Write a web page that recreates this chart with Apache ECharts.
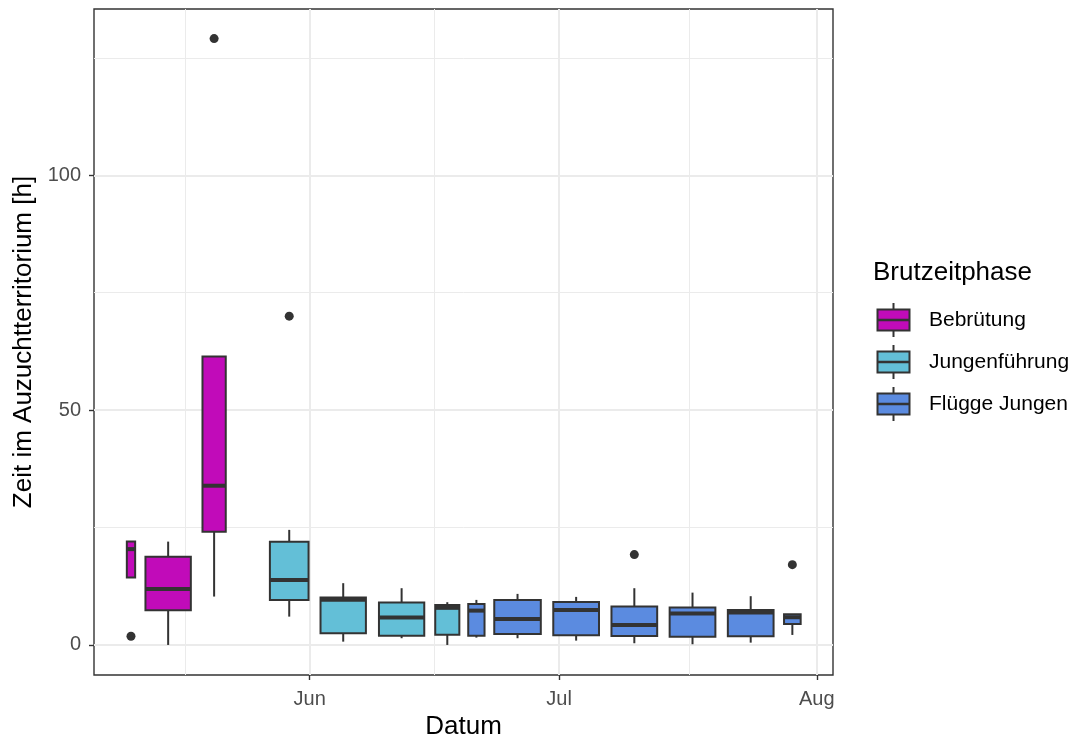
<!DOCTYPE html>
<html><head><meta charset="utf-8">
<script src="https://cdn.jsdelivr.net/npm/echarts@6/dist/echarts.min.js"></script>
<style>html,body{margin:0;padding:0;background:#fff}#c{width:1078px;height:738px}</style>
</head><body><div id="c"></div>
<script>
// Days are counted relative to 1 June (day 0)
const phases = ['Bebrütung', 'Jungenführung', 'Flügge Jungen'];
const phaseColors = ['#C10BB9', '#63BFD7', '#5B8BE0'];
const boxPhase   = [0, 0, 0, 1, 1, 1, 1, 2, 2, 2, 2, 2, 2, 2];
const boxStart   = [-22.0, -19.76, -12.9, -4.79, 1.30, 8.33, 15.1, 19.07, 22.2, 29.3, 36.3, 43.3, 50.3, 57.06];
const boxEnd     = [-21.0, -14.3, -10.1, -0.14, 6.76, 13.78, 18.0, 21.03, 27.8, 34.8, 41.8, 48.8, 55.8, 59.06];
const whiskerLow = [14.34, 0.0, 10.3, 6.03, 0.7, 1.43, 0.0, 1.56, 1.43, 0.92, 0.36, 0.15, 0.49, 2.13];
const q1         = [14.34, 7.39, 24.1, 9.59, 2.49, 1.98, 2.19, 1.98, 2.34, 2.07, 1.92, 1.77, 1.85, 4.47];
const median     = [20.4, 11.93, 33.9, 13.85, 9.6, 5.82, 7.9, 7.31, 5.54, 7.46, 4.26, 6.67, 6.9, 5.9];
const q3         = [22.0, 18.8, 61.4, 21.95, 10.08, 9.01, 8.52, 8.74, 9.59, 9.16, 8.16, 7.95, 7.46, 6.54];
const whiskerHigh= [22.0, 22.0, 61.4, 24.5, 13.15, 12.08, 9.1, 9.59, 10.87, 10.23, 12.08, 11.14, 10.38, 6.54];
const outlierBox   = [0, 2, 3, 10, 13];
const outlierValue = [1.85, 129.1, 70.0, 19.24, 17.1];
const monthTicks  = [0, 30, 61];
const monthLabels = ['Jun', 'Jul', 'Aug'];
const minorX = [-15.0, 15.0, 45.6];
const yTicks = [0, 50, 100];
const yMinor = [25, 75, 125];

const boxData = boxStart.map((s, i) => [s, boxEnd[i], whiskerLow[i], q1[i], median[i], q3[i], whiskerHigh[i], boxPhase[i]]);
const outlierData = outlierBox.map((b, i) => [(boxStart[b] + boxEnd[b]) / 2, outlierValue[i]]);

const INK = '#333333';
const chart = echarts.init(document.getElementById('c'), null, {renderer: 'canvas'});

function renderBox(params, api) {
  const xs = api.value(0), xe = api.value(1);
  const xc = (xs + xe) / 2;
  const pLo = api.coord([xc, api.value(2)]);
  const pQ1 = api.coord([xs, api.value(3)]);
  const pMed = api.coord([xs, api.value(4)]);
  const pQ3 = api.coord([xe, api.value(5)]);
  const pHi = api.coord([xc, api.value(6)]);
  const pMedE = api.coord([xe, api.value(4)]);
  const color = phaseColors[api.value(7)];
  return {
    type: 'group',
    children: [
      {type: 'line', shape: {x1: pHi[0], y1: pHi[1], x2: pHi[0], y2: pQ3[1]}, style: {stroke: INK, lineWidth: 2}},
      {type: 'line', shape: {x1: pLo[0], y1: pLo[1], x2: pLo[0], y2: pQ1[1]}, style: {stroke: INK, lineWidth: 2}},
      {type: 'rect', shape: {x: pQ1[0], y: pQ3[1], width: pQ3[0] - pQ1[0], height: pQ1[1] - pQ3[1]},
       style: {fill: color, stroke: INK, lineWidth: 2}},
      {type: 'line', shape: {x1: pMed[0], y1: pMed[1], x2: pMedE[0], y2: pMedE[1]}, style: {stroke: INK, lineWidth: 4}}
    ]
  };
}

const gridLines = [];
monthTicks.forEach(v => gridLines.push({xAxis: v, lineStyle: {color: '#EBEBEB', width: 2, type: 'solid'}}));
minorX.forEach(v => gridLines.push({xAxis: v, lineStyle: {color: '#EBEBEB', width: 1, type: 'solid'}}));
yTicks.forEach(v => gridLines.push({yAxis: v, lineStyle: {color: '#EBEBEB', width: 2, type: 'solid'}}));
yMinor.forEach(v => gridLines.push({yAxis: v, lineStyle: {color: '#EBEBEB', width: 1, type: 'solid'}}));

const legendChildren = [{
  type: 'text', left: 873, top: 260,
  style: {text: 'Brutzeitphase', font: '26px "Liberation Sans", Arial, sans-serif', fill: '#000'}
}];
phases.forEach((p, i) => {
  const yc = 320 + 42 * i;
  legendChildren.push(
    {type: 'line', shape: {x1: 893.5, y1: yc - 17, x2: 893.5, y2: yc + 17}, style: {stroke: INK, lineWidth: 2}},
    {type: 'rect', shape: {x: 877.5, y: yc - 10.5, width: 32, height: 21}, style: {fill: phaseColors[i], stroke: INK, lineWidth: 2}},
    {type: 'line', shape: {x1: 877.5, y1: yc, x2: 909.5, y2: yc}, style: {stroke: INK, lineWidth: 2.7}},
    {type: 'text', x: 929, y: yc, style: {text: p, font: '21px "Liberation Sans", Arial, sans-serif', fill: '#000', verticalAlign: 'middle', align: 'left'}}
  );
});

chart.setOption({
  animation: false,
  backgroundColor: '#ffffff',
  grid: {left: 94, top: 9, width: 739, height: 666, show: true, borderColor: INK, borderWidth: 1.4,
         backgroundColor: 'transparent', z: 0, containLabel: false, outerBoundsMode: 'none'},
  xAxis: {
    type: 'value', min: -25.95, max: 62.95,
    axisLine: {show: false, onZero: false},
    splitLine: {show: false},
    axisTick: {show: true, customValues: monthTicks, length: 5, lineStyle: {color: INK, width: 1.4}},
    axisLabel: {customValues: monthTicks, formatter: v => monthLabels[monthTicks.indexOf(v)],
      color: '#4D4D4D', fontSize: 20, fontFamily: 'Liberation Sans', margin: 14},
    name: 'Datum', nameLocation: 'middle', nameGap: 37,
    nameTextStyle: {color: '#000', fontSize: 26, fontFamily: 'Liberation Sans'}
  },
  yAxis: {
    type: 'value', min: -6.4, max: 135.4,
    axisLine: {show: false, onZero: false},
    splitLine: {show: false},
    axisTick: {show: true, customValues: yTicks, length: 5, lineStyle: {color: INK, width: 1.4}},
    axisLabel: {customValues: yTicks, color: '#4D4D4D', fontSize: 20, fontFamily: 'Liberation Sans', margin: 13},
    name: 'Zeit im Auzuchtterritorium [h]', nameLocation: 'middle', nameGap: 47, nameRotate: 90,
    nameTextStyle: {color: '#000', fontSize: 26, fontFamily: 'Liberation Sans'}
  },
  series: [
    {type: 'line', data: [], z: 1, silent: true,
     markLine: {silent: true, z: 1, symbol: ['none', 'none'], label: {show: false}, data: gridLines}},
    {type: 'custom', z: 3, renderItem: renderBox, data: boxData, encode: {x: [0, 1], y: [2, 3, 4, 5, 6]}},
    {type: 'scatter', z: 4, data: outlierData, symbol: 'circle', symbolSize: 9, itemStyle: {color: INK, opacity: 1}}
  ],
  graphic: legendChildren
});
</script></body></html>
